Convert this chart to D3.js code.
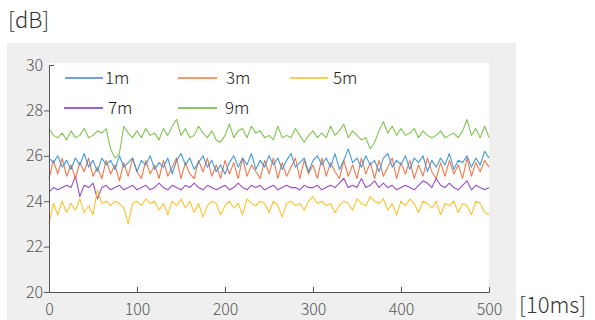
<!DOCTYPE html>
<html>
<head>
<meta charset="utf-8">
<script src="https://cdn.jsdelivr.net/npm/d3@7"></script>
<style>
  body { margin: 0; background: #fff; }
  svg { display: block; font-family: "Noto Sans CJK JP", "Noto Sans", sans-serif; }
</style>
</head>
<body>
<div id="chart"></div>
<script>
// sample step along the x axis, in [10ms]
const step = 5;
const xTicks = [0, 100, 200, 300, 400, 500];
const yTicks = [20, 22, 24, 26, 28, 30];

const seriesNames = ['1m', '3m', '5m', '7m', '9m'];

const s1m = [
  25.9, 25.7, 26.0, 25.5, 25.8, 25.4, 25.9, 25.6, 26.1, 25.5,
  25.8, 25.3, 25.9, 25.6, 25.8, 25.4, 26.0, 25.5, 25.7, 25.9,
  25.3, 25.8, 25.6, 26.0, 25.4, 25.7, 25.5, 25.9, 25.2, 25.8,
  26.1, 25.6, 25.9, 25.4, 25.7, 26.0, 25.5, 25.8, 25.3, 25.6,
  25.2, 25.7, 26.0, 25.5, 25.9, 25.6, 26.1, 25.4, 25.8, 25.5,
  26.0, 25.6, 25.9, 25.4, 25.8, 26.1, 25.5, 25.7, 25.9, 25.3,
  25.8, 26.0, 25.6, 25.9, 25.5, 26.1, 25.4, 25.8, 26.3, 25.7,
  25.9, 25.5, 26.0, 25.6, 25.8, 25.3, 25.9, 26.1, 25.5, 25.8,
  25.6, 26.0, 25.4, 25.9, 25.7, 26.0, 25.3, 25.8, 25.5, 25.9,
  25.6, 26.1, 25.4, 25.8, 25.7, 26.0, 25.5, 25.9, 25.6, 26.2,
  25.9
];
const s3m = [
  25.0, 25.8, 25.2, 25.9, 25.1, 25.6, 25.0, 25.7, 25.3, 25.9,
  25.1, 25.5, 25.0, 25.8, 25.2, 25.6, 24.9, 25.7, 25.1, 25.9,
  25.3, 25.0, 25.8, 25.2, 25.6, 25.0, 25.8, 25.1, 25.5, 25.9,
  25.0, 25.7, 25.2, 25.0, 25.8, 25.3, 25.9, 25.1, 25.6, 25.0,
  25.8, 25.2, 25.7, 25.0, 25.9, 25.1, 25.6, 25.3, 25.0, 25.8,
  25.2, 25.9, 25.0, 25.7, 25.1, 25.5, 25.9, 25.0, 25.8, 25.2,
  25.6, 25.0, 25.9, 25.1, 25.7, 25.3, 25.0, 25.8, 25.1, 25.6,
  25.0, 25.9, 25.2, 25.7, 25.0, 25.8, 25.1, 25.5, 25.9, 25.0,
  25.7, 25.2, 25.8, 25.0, 25.6, 25.1, 25.9, 25.3, 25.0, 25.7,
  25.1, 25.8, 25.2, 25.6, 25.0, 25.9, 25.1, 25.7, 25.3, 25.8,
  25.5
];
const s5m = [
  23.0, 23.9, 23.4, 24.0, 23.5, 23.9, 23.6, 24.1, 23.5, 23.8,
  23.4, 24.5, 23.9, 24.0, 23.8, 24.0, 23.9, 23.7, 23.0, 23.9,
  24.0, 23.8, 24.1, 23.9, 24.0, 23.6, 23.9, 23.4, 24.0, 23.8,
  24.1, 23.7, 24.0, 23.5, 23.9, 23.3, 23.8, 24.0, 23.9, 23.4,
  23.8, 24.0, 23.7, 23.9, 23.4, 24.1, 23.9, 23.8, 24.0, 23.9,
  23.5, 24.0, 23.8, 23.3, 23.9, 24.0, 23.8, 23.9, 23.6, 24.0,
  24.2, 23.9, 24.0, 23.8, 23.9, 23.5, 23.8, 24.0, 23.9, 23.6,
  24.1, 23.9, 23.8, 24.2, 24.0, 23.9, 24.1, 23.6, 23.9, 23.4,
  24.0, 23.8, 24.1, 23.9, 23.5, 24.0, 23.9, 23.7, 24.0, 23.4,
  23.9, 23.8, 24.0, 23.5, 23.9, 23.8, 23.4, 24.0, 23.9, 23.5,
  23.4
];
const s7m = [
  24.4, 24.6, 24.5, 24.6, 24.7, 24.6, 25.1, 24.2, 24.7, 24.6,
  24.8, 24.1, 24.6, 24.7, 24.5, 24.6, 24.7, 24.5, 24.6, 24.7,
  24.5, 24.6, 24.7, 24.5, 24.6, 24.8, 24.6, 24.5, 24.7, 24.6,
  24.5, 24.7, 24.6, 24.8, 24.6, 24.5, 24.7, 24.6, 24.5, 24.6,
  24.7, 24.5, 24.6, 24.8, 24.6, 24.5, 24.7, 24.6, 24.7, 24.5,
  24.6, 24.7, 24.5, 24.6, 24.7, 24.6, 24.6, 24.5, 24.7, 24.6,
  24.6, 24.7, 24.5, 24.6, 24.7, 24.6, 24.8, 25.0, 24.6, 24.7,
  24.6, 25.0, 24.6, 24.7, 24.9, 24.6, 24.8, 24.6, 24.7, 24.5,
  24.6, 24.7, 24.6, 24.5, 24.7, 24.9, 24.8, 24.6, 25.0, 24.7,
  24.6, 24.8, 24.6, 24.5, 24.7, 24.9, 24.5, 24.7, 24.6, 24.5,
  24.6
];
const s9m = [
  27.2, 26.9, 26.8, 27.0, 26.7, 27.1, 26.8, 26.9, 27.2, 26.8,
  26.9, 27.1, 27.0, 27.2, 26.3, 25.9, 26.1, 27.3, 27.0, 26.8,
  27.1, 26.8, 27.2, 26.9, 27.0, 26.7, 27.2, 26.9, 27.3, 27.6,
  26.9, 27.2, 26.8, 26.9, 27.3, 27.0, 26.8, 27.1, 26.7, 26.6,
  26.9, 27.4, 26.8, 27.1, 27.2, 26.8, 27.3, 27.0, 27.1, 26.8,
  26.9, 26.7, 27.3, 26.8, 26.9, 26.8, 27.2, 26.9, 26.6, 26.9,
  27.1, 26.8, 27.0, 26.8, 27.3, 26.9, 27.1, 27.4, 26.8, 27.1,
  26.9, 26.7, 26.8, 26.3, 26.6, 27.1, 27.5, 27.0, 27.3, 26.9,
  27.2, 26.9, 27.0, 27.2, 26.8, 27.1, 26.9, 26.8, 26.9, 27.1,
  26.8, 26.9, 27.0, 26.8, 27.1, 27.6, 26.9, 27.2, 26.8, 27.3,
  26.8
];

const colors = ['#2f8ed8', '#f0693a', '#fbbc1c', '#8a3cbf', '#74bd3f'];
const legendColors = ['#4a7dcf', '#ef7a3e', '#f9bd1a', '#7a2fb8', '#6db23a'];
const allSeries = [s1m, s3m, s5m, s7m, s9m];

const width = 595, height = 320;
const margin = { left: 49, right: 106, top: 65, bottom: 28 };

const svg = d3.select('#chart').append('svg')
  .attr('width', width)
  .attr('height', height);

// grey panel + white plot area
svg.append('rect')
  .attr('x', 7).attr('y', 43)
  .attr('width', 509).attr('height', height - 43)
  .attr('fill', '#efefef');

const x = d3.scaleLinear().domain([0, 500]).range([margin.left, width - margin.right]);
const y = d3.scaleLinear().domain([20, 30]).range([height - margin.bottom, margin.top]);

svg.append('rect')
  .attr('x', x(0)).attr('y', y(30) - 2)
  .attr('width', x(500) - x(0)).attr('height', y(20) - y(30) + 2)
  .attr('fill', '#fff');

const line = d3.line()
  .x((d, i) => x(i * step))
  .y(d => y(d));

// draw in order 9m, 7m, 5m, 3m, 1m so 1m stays on top like in the source
const order = [4, 3, 2, 1, 0];
order.forEach(k => {
  svg.append('path')
    .datum(allSeries[k])
    .attr('fill', 'none')
    .attr('stroke', colors[k])
    .attr('stroke-width', 1.1)
    .attr('stroke-linejoin', 'round')
    .attr('opacity', 0.9)
    .attr('d', line);
});

// axes
const yAxis = svg.append('g')
  .attr('transform', 'translate(' + x(0) + ',0)')
  .call(d3.axisLeft(y).tickValues(yTicks).tickSize(5).tickSizeOuter(0).tickPadding(1));

const xAxis = svg.append('g')
  .attr('transform', 'translate(0,' + y(20) + ')')
  .call(d3.axisBottom(x).tickValues(xTicks).tickSize(-5).tickSizeOuter(0).tickPadding(12));

[yAxis, xAxis].forEach(g => {
  g.select('.domain').attr('stroke', '#555');
  g.selectAll('line').attr('stroke', '#555');
  g.selectAll('text')
    .attr('fill', '#555')
    .attr('font-size', '16px')
    .attr('font-weight', 300)
    .attr('font-family', '"Noto Sans CJK JP", "Noto Sans", sans-serif');
});
// top tick points into the plot
yAxis.selectAll('.tick').filter(d => d === 30).select('line').attr('x2', 5);

// units
svg.append('text')
  .attr('x', 8).attr('y', 28)
  .attr('font-size', '22px')
  .attr('font-weight', 300)
  .attr('fill', '#333')
  .text('[dB]');

svg.append('text')
  .attr('x', 519).attr('y', 313)
  .attr('font-size', '22px')
  .attr('font-weight', 300)
  .attr('fill', '#333')
  .text('[10ms]');

// legend
const legendPos = [
  { x1: 65, x2: 103, tx: 105, y: 78 },
  { x1: 178, x2: 217, tx: 226, y: 78 },
  { x1: 290, x2: 328, tx: 333, y: 78 },
  { x1: 64, x2: 103, tx: 108, y: 108 },
  { x1: 178, x2: 217, tx: 225, y: 108 }
];

const legend = svg.append('g');
seriesNames.forEach((name, i) => {
  const p = legendPos[i];
  legend.append('line')
    .attr('x1', p.x1).attr('x2', p.x2)
    .attr('y1', p.y).attr('y2', p.y)
    .attr('stroke', legendColors[i])
    .attr('stroke-width', 1.5);
  legend.append('text')
    .attr('x', p.tx).attr('y', p.y + 6)
    .attr('font-size', '17px')
    .attr('font-weight', 300)
    .attr('fill', '#222')
    .text(name);
});
</script>
</body>
</html>
